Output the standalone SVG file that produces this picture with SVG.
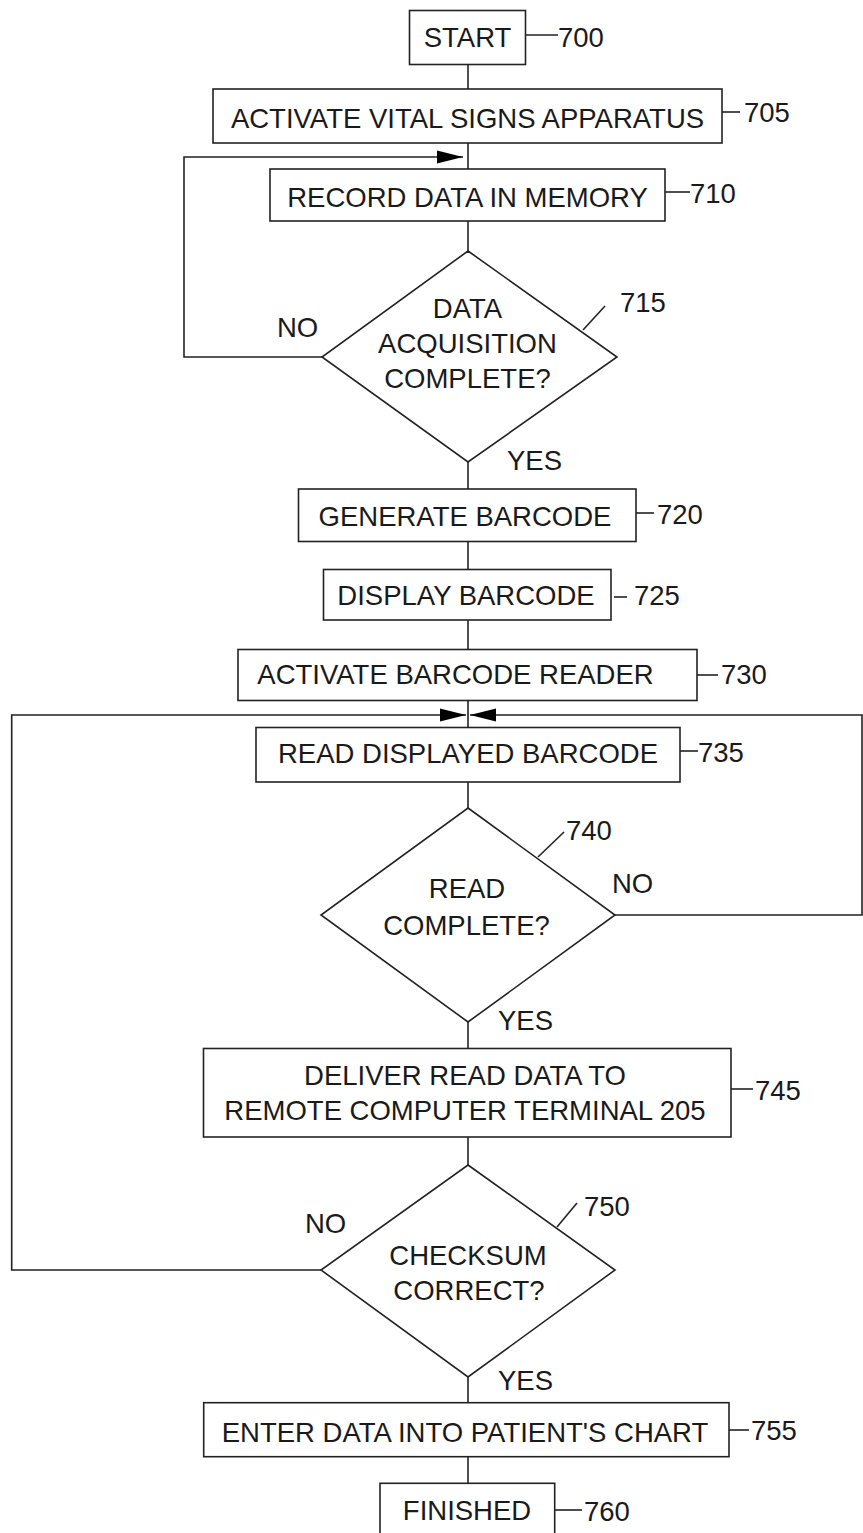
<svg xmlns="http://www.w3.org/2000/svg" width="863" height="1533" viewBox="0 0 863 1533">
  <style>
    .box { fill: #fff; stroke: #222; stroke-width: 1.6; }
    .line { fill: none; stroke: #222; stroke-width: 1.6; }
    .t { font-family: "Liberation Sans", Arial, sans-serif; font-size: 27.5px; fill: #1a1a1a; }
    .c { text-anchor: middle; }
  </style>
  <defs>
    <marker id="arrow" markerUnits="userSpaceOnUse" viewBox="0 0 26 14" refX="26" refY="7" markerWidth="26" markerHeight="14" orient="auto">
      <path d="M0,0.5 L26,7 L0,13.5 Z" fill="#000"/>
    </marker>
  </defs>

  <rect width="863" height="1533" fill="#fff"/>

  <!-- flow connectors -->
  <g id="connectors">
    <line class="line" x1="468" y1="64.5" x2="468" y2="89"/>
    <line class="line" x1="468" y1="143" x2="468" y2="169"/>
    <line class="line" x1="468" y1="221" x2="468" y2="251"/>
    <line class="line" x1="468" y1="462" x2="468" y2="489"/>
    <line class="line" x1="468" y1="541.5" x2="468" y2="569.5"/>
    <line class="line" x1="468" y1="620" x2="468" y2="649.5"/>
    <line class="line" x1="468" y1="700.5" x2="468" y2="727.5"/>
    <line class="line" x1="468" y1="782" x2="468" y2="808"/>
    <line class="line" x1="468" y1="1022" x2="468" y2="1048.5"/>
    <line class="line" x1="468" y1="1137" x2="468" y2="1165"/>
    <line class="line" x1="468" y1="1377" x2="468" y2="1402.7"/>
    <line class="line" x1="468" y1="1456.7" x2="468" y2="1483.3"/>
    <!-- loop back: acquisition not complete -->
    <polyline class="line" points="322,357 184,357 184,157 463,157" marker-end="url(#arrow)"/>
    <!-- loop back: read not complete -->
    <polyline class="line" points="615,915 862,915 862,715 470,715" marker-end="url(#arrow)"/>
    <!-- loop back: checksum wrong -->
    <polyline class="line" points="321,1270 11.7,1270 11.7,715 466,715" marker-end="url(#arrow)"/>
  </g>

  <g id="n700">
    <rect class="box" x="409.5" y="10.5" width="116" height="54"/>
    <text class="t c" x="467.5" y="46.5">START</text>
    <line class="line" x1="525.5" y1="35" x2="558" y2="35"/>
    <text class="t" x="558" y="46.5">700</text>
  </g>

  <g id="n705">
    <rect class="box" x="213" y="89" width="509" height="54"/>
    <text class="t c" x="467.5" y="128">ACTIVATE VITAL SIGNS APPARATUS</text>
    <line class="line" x1="722" y1="112" x2="740" y2="112"/>
    <text class="t" x="744" y="122">705</text>
  </g>

  <g id="n710">
    <rect class="box" x="270" y="169" width="395" height="52"/>
    <text class="t c" x="467.5" y="206.5">RECORD DATA IN MEMORY</text>
    <line class="line" x1="665" y1="192" x2="690" y2="192"/>
    <text class="t" x="690" y="203">710</text>
  </g>

  <g id="n715">
    <polygon class="box" points="468,251 617,357 468,462 322,357"/>
    <text class="t c" x="467.5" y="318">DATA</text>
    <text class="t c" x="467.5" y="353">ACQUISITION</text>
    <text class="t c" x="467.5" y="388">COMPLETE?</text>
    <line class="line" x1="583" y1="330" x2="605" y2="306"/>
    <text class="t" x="620" y="312">715</text>
    <text class="t" x="277" y="337">NO</text>
    <text class="t" x="507" y="470">YES</text>
  </g>

  <g id="n720">
    <rect class="box" x="298.5" y="489" width="337.5" height="52.5"/>
    <text class="t c" x="465" y="526">GENERATE BARCODE</text>
    <line class="line" x1="636" y1="513" x2="654" y2="513"/>
    <text class="t" x="657" y="524">720</text>
  </g>

  <g id="n725">
    <rect class="box" x="323.5" y="569.5" width="287.5" height="50.5"/>
    <text class="t c" x="466" y="605">DISPLAY BARCODE</text>
    <line class="line" x1="614" y1="597" x2="627" y2="597"/>
    <text class="t" x="634" y="605">725</text>
  </g>

  <g id="n730">
    <rect class="box" x="238" y="649.5" width="459" height="51"/>
    <text class="t c" x="455.5" y="684">ACTIVATE BARCODE READER</text>
    <line class="line" x1="697" y1="675" x2="718" y2="675"/>
    <text class="t" x="721" y="684">730</text>
  </g>

  <g id="n735">
    <rect class="box" x="256" y="727.5" width="424" height="54.5"/>
    <text class="t c" x="468" y="763">READ DISPLAYED BARCODE</text>
    <line class="line" x1="680" y1="751" x2="698" y2="751"/>
    <text class="t" x="698" y="762">735</text>
  </g>

  <g id="n740">
    <polygon class="box" points="468,808 615,915 468,1022 321,915"/>
    <text class="t c" x="467" y="898">READ</text>
    <text class="t c" x="466.5" y="935">COMPLETE?</text>
    <line class="line" x1="538" y1="857" x2="564" y2="832"/>
    <text class="t" x="566" y="840">740</text>
    <text class="t" x="612" y="893">NO</text>
    <text class="t" x="498" y="1030">YES</text>
  </g>

  <g id="n745">
    <rect class="box" x="203.5" y="1048.5" width="527.5" height="88.5"/>
    <text class="t c" x="465" y="1085">DELIVER READ DATA TO</text>
    <text class="t c" x="465" y="1120">REMOTE COMPUTER TERMINAL 205</text>
    <line class="line" x1="731" y1="1089" x2="753" y2="1089"/>
    <text class="t" x="755" y="1100">745</text>
  </g>

  <g id="n750">
    <polygon class="box" points="468,1165 615,1270 468,1377 321,1270"/>
    <text class="t c" x="468" y="1265">CHECKSUM</text>
    <text class="t c" x="469" y="1300">CORRECT?</text>
    <line class="line" x1="557" y1="1227" x2="577" y2="1203"/>
    <text class="t" x="584" y="1216">750</text>
    <text class="t" x="305" y="1233">NO</text>
    <text class="t" x="498" y="1390">YES</text>
  </g>

  <g id="n755">
    <rect class="box" x="203.7" y="1402.7" width="525.3" height="54"/>
    <text class="t c" x="465" y="1441.5">ENTER DATA INTO PATIENT'S CHART</text>
    <line class="line" x1="729" y1="1430" x2="749" y2="1430"/>
    <text class="t" x="751" y="1440">755</text>
  </g>

  <g id="n760">
    <rect class="box" x="380" y="1483.3" width="174.7" height="60"/>
    <text class="t c" x="467" y="1520">FINISHED</text>
    <line class="line" x1="554.7" y1="1510" x2="582" y2="1510"/>
    <text class="t" x="584" y="1521">760</text>
  </g>
</svg>
